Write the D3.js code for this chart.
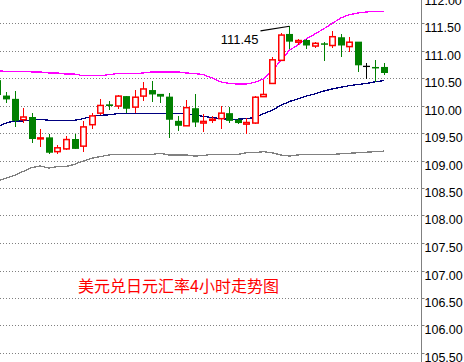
<!DOCTYPE html>
<html>
<head>
<meta charset="utf-8">
<script src="https://cdn.jsdelivr.net/npm/d3@7"></script>
<style>
  html, body { margin: 0; padding: 0; background: #ffffff; }
  svg { display: block; }
</style>
</head>
<body>
<svg id="chart" width="464" height="362"></svg>
<script>
// USD/JPY 4-hour candles with Bollinger-style bands
const opens  = [110.47,110.19,110.13,109.75,109.80,109.41,109.43,109.17,109.22,109.40,
                109.27,109.66,109.87,110.03,110.00,110.18,109.98,110.18,110.29,110.22,
                110.17,109.73,109.64,109.96,109.69,109.74,109.77,109.87,109.75,109.67,
                109.69,110.17,110.41,110.83,111.31,111.16,111.20,111.09,111.14,111.10,
                111.25,111.08,111.17,110.72,110.71,110.71];
const highs  = [110.50,110.26,110.27,109.96,109.88,109.58,109.50,109.29,109.45,109.50,
                109.72,109.88,110.12,110.09,110.20,110.19,110.29,110.43,110.46,110.22,
                110.24,109.81,110.11,110.21,109.86,109.81,110.00,109.99,109.78,109.78,
                110.18,110.48,110.89,111.33,111.45,111.22,111.22,111.16,111.17,111.37,
                111.31,111.25,111.17,110.78,110.84,110.79];
const lows   = [110.15,110.05,109.62,109.69,109.33,109.26,109.12,109.13,109.20,109.22,
                109.17,109.58,109.84,109.93,109.95,109.88,109.88,110.10,110.08,110.06,
                109.42,109.55,109.63,109.62,109.53,109.69,109.58,109.70,109.67,109.49,
                109.68,110.17,110.41,110.82,111.04,111.11,111.04,111.05,110.81,111.05,
                110.90,110.98,110.61,110.49,110.44,110.57];
const closes = [110.20,110.12,109.73,109.80,109.40,109.42,109.15,109.24,109.39,109.22,
                109.62,109.82,110.01,110.00,110.18,109.95,110.16,110.31,110.21,110.17,
                109.75,109.64,109.97,109.70,109.72,109.76,109.87,109.73,109.69,109.70,
                110.16,110.21,110.84,111.29,111.17,111.19,111.10,111.14,111.13,111.26,
                111.10,111.16,110.74,110.72,110.69,110.60];

const upperBand  = [110.64,110.63,110.63,110.63,110.62,110.62,110.60,110.60,110.58,110.58,
                    110.55,110.55,110.55,110.57,110.59,110.59,110.59,110.60,110.62,110.62,
                    110.62,110.62,110.60,110.59,110.57,110.51,110.44,110.41,110.40,110.40,
                    110.43,110.49,110.64,110.82,111.01,111.11,111.22,111.31,111.40,111.50,
                    111.60,111.66,111.69,111.71,111.72,111.72];
const middleBand = [109.62,109.69,109.73,109.73,109.75,109.76,109.74,109.74,109.74,109.74,
                    109.77,109.81,109.83,109.84,109.86,109.86,109.86,109.86,109.86,109.86,
                    109.86,109.86,109.86,109.84,109.81,109.79,109.77,109.76,109.76,109.77,
                    109.79,109.86,109.92,110.01,110.08,110.13,110.18,110.22,110.27,110.31,
                    110.34,110.37,110.39,110.41,110.44,110.46];
const lowerBand  = [108.63,108.69,108.74,108.81,108.88,108.91,108.87,108.90,108.90,108.94,
                    109.00,109.05,109.08,109.11,109.12,109.12,109.12,109.12,109.12,109.14,
                    109.11,109.11,109.11,109.09,109.10,109.12,109.12,109.12,109.12,109.15,
                    109.15,109.17,109.15,109.11,109.09,109.11,109.12,109.12,109.12,109.12,
                    109.13,109.14,109.15,109.16,109.17,109.18];

const priceTicks = [105.5,106.0,106.5,107.0,107.5,108.0,108.5,109.0,109.5,110.0,110.5,111.0,111.5,112.0];
const titleText = "美元兑日元汇率4小时走势图";
const markedBar = 34;   // bar whose high is annotated

const W = 464, H = 362;
const axisX = 421;
const n = opens.length;

const svg = d3.select("#chart");

const x = d3.scalePoint().domain(d3.range(n)).range([-2.6, 383.6]);
const y = d3.scaleLinear().domain([105.5, 111.5]).range([353.5, 23.5]);

// dotted horizontal grid
svg.append("g")
  .selectAll("line")
  .data(priceTicks)
  .join("line")
  .attr("x1", 0).attr("x2", axisX - 1)
  .attr("y1", d => Math.floor(y(d)) + 0.5)
  .attr("y2", d => Math.floor(y(d)) + 0.5)
  .attr("stroke", "#808080")
  .attr("stroke-width", 1)
  .attr("stroke-dasharray", "1,2");

// price axis on the right
const axis = d3.axisRight(y)
  .tickValues(priceTicks)
  .tickSize(3)
  .tickPadding(0)
  .tickFormat(d3.format(".2f"));

const gAxis = svg.append("g")
  .attr("transform", `translate(${axisX + 0.5},0)`)
  .call(axis);
gAxis.select(".domain").remove();
gAxis.selectAll(".tick").attr("transform", d => `translate(0,${Math.floor(y(d)) + 0.5})`);
gAxis.selectAll(".tick line").attr("stroke", "#808080");
gAxis.selectAll(".tick text")
  .attr("x", 3)
  .attr("dy", "8px")
  .attr("fill", "#000")
  .style("font-family", "'Liberation Sans', Arial, sans-serif")
  .style("font-size", "12.5px");

svg.append("line")
  .attr("x1", axisX + 0.5).attr("x2", axisX + 0.5)
  .attr("y1", 0).attr("y2", H)
  .attr("stroke", "#808080")
  .attr("stroke-width", 1);

// bands
const bandLine = d3.line().x((d, i) => x(i)).y(d => y(d));
[[lowerBand, "#808080"], [upperBand, "#ff00ff"], [middleBand, "#000080"]].forEach(([vals, col]) => {
  svg.append("path")
    .datum(vals)
    .attr("d", bandLine)
    .attr("fill", "none")
    .attr("stroke", col)
    .attr("stroke-width", 1.3)
    .attr("shape-rendering", "crispEdges");
});

// candles
const candles = d3.range(n).map(i => ({ i, o: opens[i], h: highs[i], l: lows[i], c: closes[i] }));
const colorOf = d => d.c > d.o ? "#ff0000" : (d.c < d.o ? "#008000" : "#000000");

const g = svg.append("g");
const cg = g.selectAll("g").data(candles).join("g");

cg.append("line")
  .attr("x1", d => Math.round(x(d.i)) + 0.5)
  .attr("x2", d => Math.round(x(d.i)) + 0.5)
  .attr("y1", d => y(d.h))
  .attr("y2", d => y(d.l))
  .attr("stroke", colorOf)
  .attr("stroke-width", 1)
  .attr("shape-rendering", "crispEdges");

// rising bars: hollow red
cg.filter(d => d.c > d.o).append("rect")
  .attr("x", d => Math.round(x(d.i)) + 0.5 - 2.75)
  .attr("width", 5.5)
  .attr("y", d => y(d.c))
  .attr("height", d => Math.max(1, y(d.o) - y(d.c)))
  .attr("fill", "#ffffff")
  .attr("stroke", "#ff0000")
  .attr("stroke-width", 1.5);

// falling bars: solid green
cg.filter(d => d.c < d.o).append("rect")
  .attr("x", d => Math.round(x(d.i)) + 0.5 - 3.5)
  .attr("width", 7)
  .attr("y", d => y(d.o))
  .attr("height", d => Math.max(1.5, y(d.c) - y(d.o)))
  .attr("fill", "#008000");

// unchanged bars: black cross
cg.filter(d => d.c === d.o).append("line")
  .attr("x1", d => Math.round(x(d.i)) + 0.5 - 3.5)
  .attr("x2", d => Math.round(x(d.i)) + 0.5 + 3.5)
  .attr("y1", d => y(d.o))
  .attr("y2", d => y(d.o))
  .attr("stroke", "#000000")
  .attr("stroke-width", 1.3);

// high annotation
const hx = Math.round(x(markedBar)) + 0.5;
const hy = y(highs[markedBar]);
svg.append("line")
  .attr("x1", hx - 29).attr("y1", hy + 4.6)
  .attr("x2", hx).attr("y2", hy)
  .attr("stroke", "#000")
  .attr("stroke-width", 1.2);
svg.append("text")
  .attr("x", hx - 31)
  .attr("y", hy + 18)
  .attr("text-anchor", "end")
  .attr("fill", "#000")
  .style("font-family", "'Liberation Sans', Arial, sans-serif")
  .style("font-size", "13px")
  .text(d3.format(".2f")(highs[markedBar]));

// title
svg.append("text")
  .attr("x", 78)
  .attr("y", 292)
  .attr("fill", "#ff0000")
  .style("font-family", "'Noto Sans CJK SC', sans-serif")
  .style("font-size", "16px")
  .text(titleText);
</script>
</body>
</html>
